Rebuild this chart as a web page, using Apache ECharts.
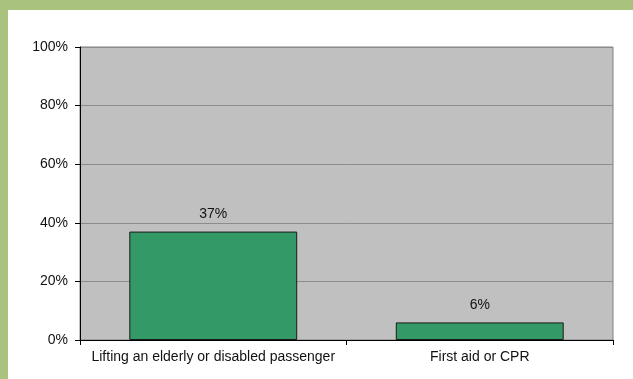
<!DOCTYPE html>
<html>
<head>
<meta charset="utf-8">
<script src="https://cdn.jsdelivr.net/npm/echarts@6/dist/echarts.min.js"></script>
<style>
  html, body { margin: 0; padding: 0; background: #ffffff; }
  #chart { width: 633px; height: 379px; }
</style>
</head>
<body>
<div id="chart"></div>
<script>
// Share of respondents by type of assistance
const categories = ['Lifting an elderly or disabled passenger', 'First aid or CPR'];
const values = [37, 6];
const yTicks = [0, 20, 40, 60, 80, 100];

const chart = echarts.init(document.getElementById('chart'), null, { renderer: 'canvas' });

const font = { fontFamily: 'Arial, "Liberation Sans", sans-serif', fontSize: 14, color: '#111111' };

chart.setOption({
  backgroundColor: '#ffffff',
  animation: false,
  graphic: [
    { type: 'rect', shape: { x: 0, y: 0, width: 633, height: 10 }, style: { fill: '#a9c37f' }, z: 0 },
    { type: 'rect', shape: { x: 0, y: 0, width: 8, height: 379 }, style: { fill: '#a9c37f' }, z: 0 }
  ],
  grid: {
    left: 80, right: 20, top: 47, bottom: 39,
    show: true,
    backgroundColor: '#c0c0c0',
    borderColor: '#808080',
    borderWidth: 1
  },
  xAxis: {
    type: 'category',
    data: categories,
    axisLine: { show: true, lineStyle: { color: '#000000', width: 1 } },
    axisTick: { show: true, alignWithLabel: false, interval: 0, length: 5, lineStyle: { color: '#000000' } },
    axisLabel: Object.assign({ margin: 10, interval: 0, hideOverlap: false }, font),
    splitLine: { show: false }
  },
  yAxis: {
    type: 'value',
    min: yTicks[0],
    max: yTicks[yTicks.length - 1],
    interval: yTicks[1] - yTicks[0],
    axisLine: { show: true, lineStyle: { color: '#000000', width: 1 } },
    axisTick: { show: true, length: 5, lineStyle: { color: '#000000' } },
    axisLabel: Object.assign({ margin: 12, formatter: '{value}%' }, font),
    splitLine: { show: true, lineStyle: { color: '#8c8c8c', width: 1 } }
  },
  series: [{
    type: 'bar',
    data: values,
    barWidth: '63%',
    itemStyle: { color: '#339966', borderColor: '#1a1a1a', borderWidth: 1 },
    label: Object.assign({
      show: true,
      position: 'top',
      distance: 10,
      formatter: '{c}%'
    }, font)
  }]
});
</script>
</body>
</html>
